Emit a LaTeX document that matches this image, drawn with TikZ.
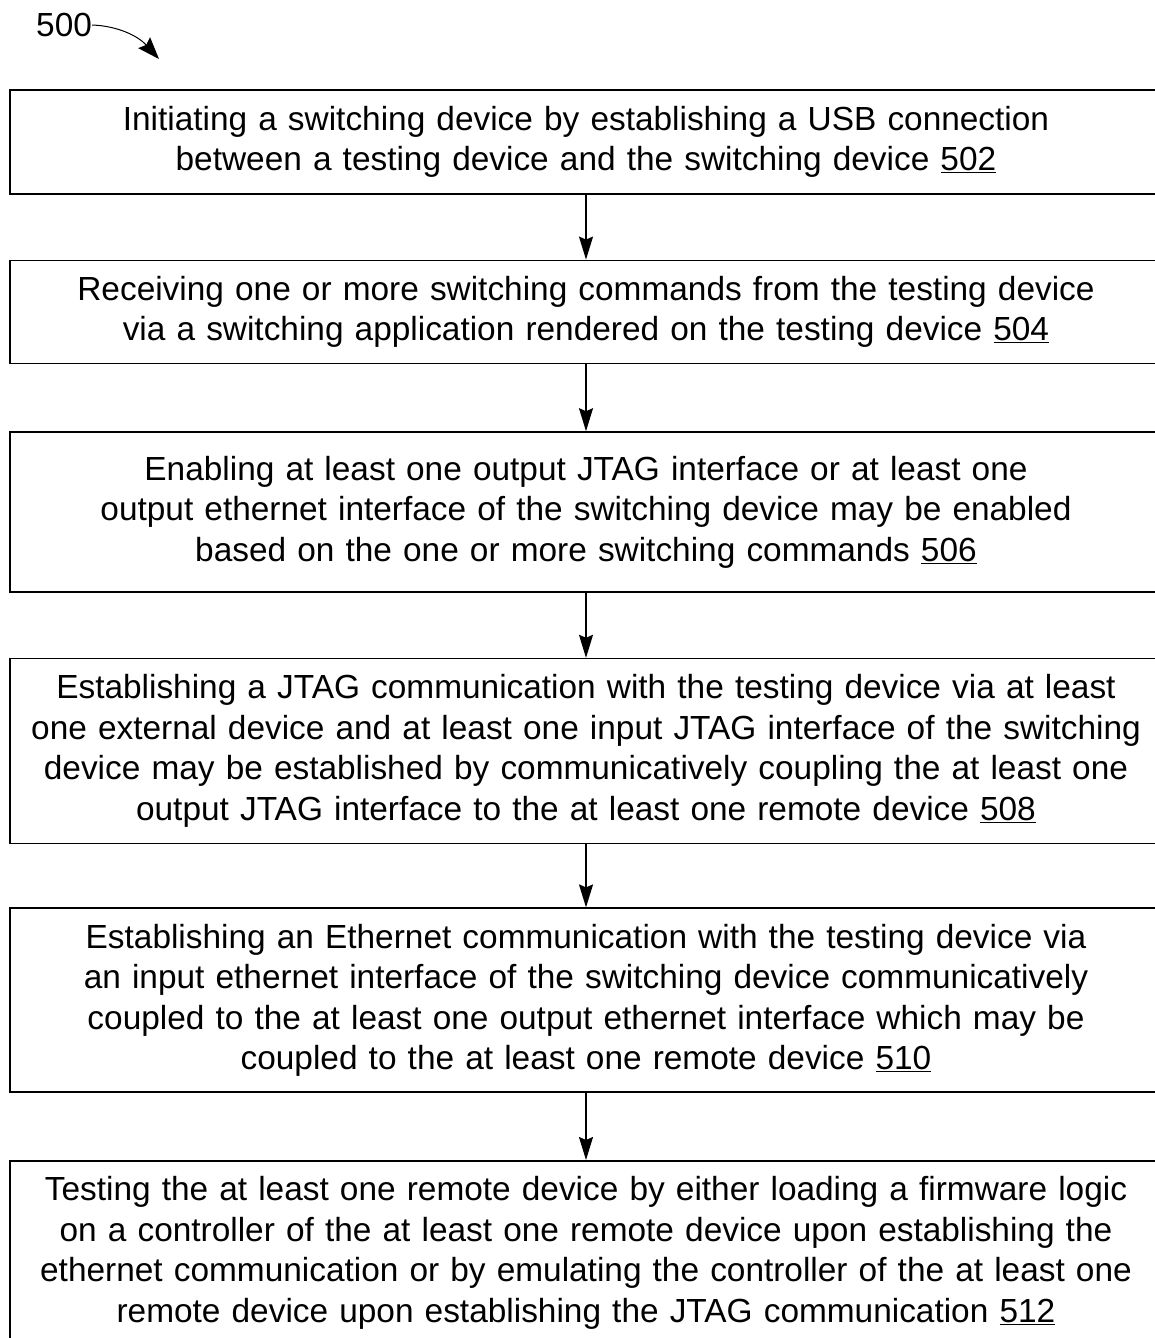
\documentclass[tikz,border=0pt]{standalone}
\usepackage{fontspec}
\setmainfont{Liberation Sans}
\usetikzlibrary{arrows.meta,positioning}

\begin{document}
\begin{tikzpicture}[%
    x=1pt, y=-1pt,
    >={Stealth[length=23pt,width=14pt,inset=3pt]},
    step box/.style={draw, line width=1.6pt, minimum width=1152pt,
        text width=1140pt, align=center, inner sep=0pt,
        font=\fontsize{33.4}{40.5}\selectfont},
    flow/.style={->, line width=1.6pt}
    ]
    \useasboundingbox (0,0) rectangle (1154,1338);

    \node[step box, minimum height=104pt, anchor=north] (502) at (586,89)
        {Initiating a switching device by establishing a USB connection\\
         between a testing device and the switching device \underline{502}};
    \node[step box, minimum height=103pt] (504) [below=65pt of 502]
        {Receiving one or more switching commands from the testing device\\
         via a switching application rendered on the testing device \underline{504}};
    \node[step box, minimum height=160pt] (506) [below=67pt of 504]
        {Enabling at least one output JTAG interface or at least one\\
         output ethernet interface of the switching device may be enabled\\
         based on the one or more switching commands \underline{506}};
    \node[step box, minimum height=185pt] (508) [below=65pt of 506]
        {Establishing a JTAG communication with the testing device via at least\\
         one external device and at least one input JTAG interface of the switching\\
         device may be established by communicatively coupling the at least one\\
         output JTAG interface to the at least one remote device \underline{508}};
    \node[step box, minimum height=184pt] (510) [below=63pt of 508]
        {Establishing an Ethernet communication with the testing device via\\
         an input ethernet interface of the switching device communicatively\\
         coupled to the at least one output ethernet interface which may be\\
         coupled to the at least one remote device \underline{510}};
    \node[step box, minimum height=184pt] (512) [below=67pt of 510]
        {Testing the at least one remote device by either loading a firmware logic\\
         on a controller of the at least one remote device upon establishing the\\
         ethernet communication or by emulating the controller of the at least one\\
         remote device upon establishing the JTAG communication \underline{512}};

    % figure label
    \node[font=\fontsize{33.4}{40.5}\selectfont, anchor=west, inner sep=0pt] (500) at (36,25) {500};
    \coordinate (tip500) at (159,59);
    \draw[->, line width=1pt, >={Stealth[length=22pt,width=16pt,inset=3pt]}]
        (500.east) .. controls (118,26) and (138,36) .. (tip500);

    \path[flow] (502) edge (504);
    \path[flow] (504) edge (506);
    \path[flow] (506) edge (508);
    \path[flow] (508) edge (510);
    \path[flow] (510) edge (512);

\end{tikzpicture}
\end{document}
